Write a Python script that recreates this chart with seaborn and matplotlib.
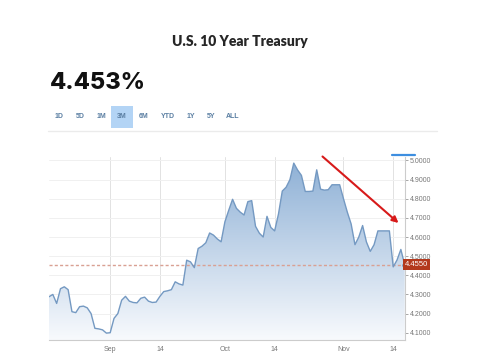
import numpy as np
import pandas as pd
import matplotlib
matplotlib.use("Agg")
import matplotlib.pyplot as plt
import matplotlib.dates as mdates
from matplotlib.colors import LinearSegmentedColormap
from matplotlib.lines import Line2D
import seaborn as sns

# data (daily closes, Aug 16 - Nov 17)
start_date = "2023-08-16"
yields = [4.288, 4.30, 4.253, 4.33, 4.34, 4.325, 4.21, 4.205, 4.236, 4.239, 4.23, 4.20,
          4.123, 4.12, 4.115, 4.098,
          4.10, 4.175, 4.20, 4.27, 4.29, 4.265, 4.258, 4.256, 4.28, 4.286, 4.265, 4.258,
          4.26, 4.29, 4.315, 4.319, 4.325, 4.366, 4.355, 4.349, 4.479, 4.47, 4.44, 4.54,
          4.552, 4.57, 4.621, 4.61, 4.59, 4.575,
          4.68, 4.74, 4.797, 4.75, 4.73, 4.715, 4.785, 4.79, 4.656, 4.62, 4.60, 4.708,
          4.65, 4.632, 4.72, 4.84, 4.86, 4.90, 4.986, 4.95, 4.922, 4.838, 4.838, 4.84,
          4.951, 4.85, 4.845, 4.847, 4.873, 4.873, 4.873,
          4.80, 4.73, 4.668, 4.56, 4.60, 4.66, 4.574, 4.525, 4.56, 4.632, 4.632, 4.632,
          4.632, 4.444, 4.48, 4.535, 4.455]
dates = pd.date_range(start_date, periods=len(yields), freq="D")

current_yield = 4.453
last_price = 4.4550
ytick_vals = [4.1, 4.2, 4.3, 4.4, 4.5, 4.6, 4.7, 4.8, 4.9, 5.0]
xtick_dates = ["2023-09-01", "2023-09-14", "2023-10-01", "2023-10-14", "2023-11-01", "2023-11-14"]
xtick_labels = ["Sep", "14", "Oct", "14", "Nov", "14"]
ranges = ["1D", "5D", "1M", "3M", "6M", "YTD", "1Y", "5Y", "ALL"]
range_x = [59, 80, 101, 122, 144, 168, 191, 211, 233]

sns.set_style("white")
plt.rcParams["font.family"] = ["Liberation Sans", "DejaVu Sans"]

W, H = 484, 364
fig = plt.figure(figsize=(W / 100, H / 100), dpi=100)
fig.patch.set_facecolor("white")

def fx(x):
    return x / W

def fy(y):
    return 1 - y / H

ax = fig.add_axes([fx(49), fy(340), (405 - 49) / W, (340 - 157) / H])

df = pd.DataFrame({"date": dates, "yield": yields})
sns.lineplot(data=df, x="date", y="yield", ax=ax, color="#7499c2", lw=1.0, zorder=4)

# gradient area under the line
ymin, ymax = 4.062, 5.018
x0, x1 = mdates.date2num(pd.Timestamp("2023-08-16")), mdates.date2num(pd.Timestamp("2023-11-17 02:00"))
poly = ax.fill_between(df["date"], df["yield"], ymin, color="none", lw=0)
cmap = LinearSegmentedColormap.from_list("fade", ["#f8fafd", "#8cafd5"])
grad = np.linspace(0, 1, 256).reshape(-1, 1)
im = ax.imshow(grad, extent=[x0, x1, ymin, ymax], origin="lower", aspect="auto",
               cmap=cmap, zorder=1)
im.set_clip_path(poly.get_paths()[0], transform=ax.transData)

ax.axhline(current_yield, color="#d9a093", lw=1, ls=(0, (2.2, 1.6)), zorder=3)

ax.set_xlim(x0, x1)
ax.set_ylim(ymin, ymax)
ax.set_xlabel("")
ax.set_ylabel("")

ax.yaxis.tick_right()
ax.set_yticks(ytick_vals)
ax.set_yticklabels([f"{v:.4f}" for v in ytick_vals])
ax.set_xticks(mdates.date2num(pd.to_datetime(xtick_dates)))
ax.set_xticklabels(xtick_labels)
ax.tick_params(axis="both", labelsize=5, colors="#999999", labelcolor="#777777",
               length=2, width=0.6, pad=2)
ax.tick_params(axis="y", pad=1.5)

ax.set_axisbelow(True)
ax.grid(axis="y", color="#f0f0f0", lw=0.7)
ax.grid(axis="x", color="#e2e2e2", lw=0.7)
for side in ["top", "left"]:
    ax.spines[side].set_visible(False)
for side in ["right", "bottom"]:
    ax.spines[side].set_color("#cccccc")
    ax.spines[side].set_linewidth(0.8)

# last price marker and tag
ax.scatter([dates[-1]], [last_price], s=14, color="#6ab7e3", edgecolor="#3f6f9a",
           lw=0.6, zorder=6, clip_on=False)
ax.text(1.0, last_price, "4.4550", transform=ax.get_yaxis_transform(), ha="left",
        va="center", fontsize=5.5, color="white", zorder=7,
        bbox=dict(boxstyle="square,pad=0.25", fc="#b3391d", ec="none"))

# header
fig.text(fx(240), fy(42), "U.S. 10 Year Treasury", ha="center", va="center",
         fontsize=10, fontweight="heavy", family=["Lato", "DejaVu Sans"])
fig.text(fx(50), fy(89), "4.453%", ha="left", va="baseline", fontsize=17,
         fontweight="heavy", family=["Inter", "DejaVu Sans"], color="#111111")
fig.patches.append(plt.Rectangle((fx(111), fy(128)), 22 / W, 22 / H, transform=fig.transFigure,
                                 fc="#b3d4f5", ec="none"))
for lab, x in zip(ranges, range_x):
    fig.text(fx(x), fy(117), lab, ha="center", va="center", fontsize=5,
             fontweight="bold", color="#5a7ea2")
fig.lines.append(Line2D([fx(48), fx(437)], [fy(131), fy(131)], transform=fig.transFigure,
                        color="#ebebeb", lw=1))
fig.lines.append(Line2D([fx(392), fx(415)], [fy(154.5), fy(154.5)], transform=fig.transFigure,
                        color="#3d8ee0", lw=1.6))

# red trend arrow
ax.annotate("", xy=(fx(398.5), fy(223)), xytext=(fx(322.5), fy(156.5)),
            xycoords="figure fraction", textcoords="figure fraction",
            arrowprops=dict(arrowstyle="-|>", color="#d71a1a", lw=1.5,
                            mutation_scale=9, shrinkA=0, shrinkB=0), zorder=8)

fig.savefig("out.png", dpi=100)
